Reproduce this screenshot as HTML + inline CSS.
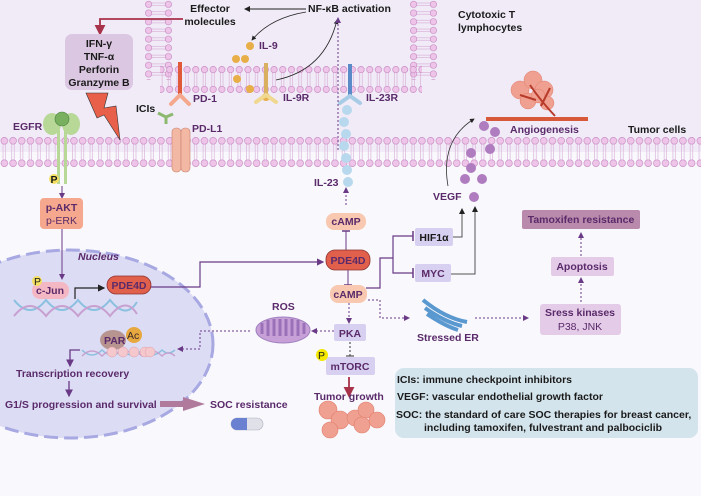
<!DOCTYPE html>
<html><head><meta charset="utf-8"><style>
body{margin:0;width:701px;height:496px;overflow:hidden;background:#f8f8fd}
svg{display:block}
text{font-family:"Liberation Sans",sans-serif;font-weight:bold;font-size:10.5px;fill:#5a2a6a}
.k{fill:#1a1a1a}
</style></head><body>
<svg width="701" height="496" viewBox="0 0 701 496" xmlns="http://www.w3.org/2000/svg">
<defs>
<pattern id="mh" x="0" y="137" width="8.7" height="30" patternUnits="userSpaceOnUse">
<line x1="3" y1="4" x2="3" y2="26" stroke="#d7a8d4" stroke-width="0.6"/><line x1="5.5" y1="4" x2="5.5" y2="26" stroke="#d7a8d4" stroke-width="0.6"/>
<circle cx="4.35" cy="3.8" r="3.4" fill="#eec4e8" stroke="#c98ec6" stroke-width="0.7"/>
<circle cx="4.35" cy="26.2" r="3.4" fill="#eec4e8" stroke="#c98ec6" stroke-width="0.7"/>
</pattern>
<pattern id="th" x="0" y="66" width="8.7" height="27" patternUnits="userSpaceOnUse">
<line x1="3" y1="4" x2="3" y2="23" stroke="#d7a8d4" stroke-width="0.6"/><line x1="5.5" y1="4" x2="5.5" y2="23" stroke="#d7a8d4" stroke-width="0.6"/>
<circle cx="4.35" cy="3.6" r="3.2" fill="#eec4e8" stroke="#c98ec6" stroke-width="0.7"/>
<circle cx="4.35" cy="23.4" r="3.2" fill="#eec4e8" stroke="#c98ec6" stroke-width="0.7"/>
</pattern>
<pattern id="tv" x="145" y="0" width="27" height="8.7" patternUnits="userSpaceOnUse">
<line y1="3" x1="4" y2="3" x2="23" stroke="#d7a8d4" stroke-width="0.6"/><line y1="5.5" x1="4" y2="5.5" x2="23" stroke="#d7a8d4" stroke-width="0.6"/>
<circle cy="4.35" cx="3.6" r="3.2" fill="#eec4e8" stroke="#c98ec6" stroke-width="0.7"/>
<circle cy="4.35" cx="23.4" r="3.2" fill="#eec4e8" stroke="#c98ec6" stroke-width="0.7"/>
</pattern>
<pattern id="tv2" x="410" y="0" width="27" height="8.7" patternUnits="userSpaceOnUse">
<line y1="3" x1="4" y2="3" x2="23" stroke="#d7a8d4" stroke-width="0.6"/><line y1="5.5" x1="4" y2="5.5" x2="23" stroke="#d7a8d4" stroke-width="0.6"/>
<circle cy="4.35" cx="3.6" r="3.2" fill="#eec4e8" stroke="#c98ec6" stroke-width="0.7"/>
<circle cy="4.35" cx="23.4" r="3.2" fill="#eec4e8" stroke="#c98ec6" stroke-width="0.7"/>
</pattern>
<marker id="ap" markerWidth="6" markerHeight="6" refX="5" refY="3" orient="auto"><path d="M0,0L6,3L0,6z" fill="#6a3a86"/></marker>
<marker id="ak" markerWidth="6" markerHeight="6" refX="5" refY="3" orient="auto"><path d="M0,0L6,3L0,6z" fill="#222"/></marker>
<marker id="ar" markerWidth="6" markerHeight="6" refX="5" refY="3" orient="auto"><path d="M0,0L6,3L0,6z" fill="#a8324a"/></marker>
<marker id="ab" markerWidth="4" markerHeight="8" refX="2" refY="4" orient="auto"><path d="M2,0V8" stroke="#6a3a86" stroke-width="1.5"/></marker>
</defs>
<rect width="701" height="152" fill="#f0ebf7"/>
<!-- T cell membrane -->
<rect x="145" y="0" width="27" height="80" fill="url(#tv)"/>
<rect x="410" y="0" width="27" height="80" fill="url(#tv2)"/>
<rect x="160" y="66" width="262" height="27" fill="url(#th)"/>
<!-- tumor membrane -->
<rect x="0" y="137" width="701" height="30" fill="url(#mh)"/>
<!-- nucleus -->
<ellipse cx="70" cy="344" rx="143" ry="94" fill="#dcdcf4" stroke="#a8a8e2" stroke-width="3" stroke-dasharray="14,6"/>
<!-- top texts -->
<text x="210" y="12" text-anchor="middle" class="k">Effector</text>
<text x="210" y="25" text-anchor="middle" class="k">molecules</text>
<text x="308" y="12" class="k">NF-κB activation</text>
<text x="458" y="18" class="k">Cytotoxic T</text>
<text x="458" y="31" class="k">lymphocytes</text>
<line x1="306" y1="9" x2="245" y2="9" stroke="#222" marker-end="url(#ak)"/>
<path d="M306,12 Q270,18 252,40" stroke="#222" fill="none" stroke-width="0.8" marker-end="url(#ak)"/>
<path d="M276,80 Q325,70 337,20" stroke="#222" fill="none" stroke-width="0.8" marker-end="url(#ak)"/>
<path d="M183,19 H100 V34" stroke="#a8324a" stroke-width="1.8" fill="none" marker-end="url(#ar)"/>
<rect x="65" y="34" width="68" height="56" rx="7" fill="#dcc7e2"/>
<text x="99" y="47" text-anchor="middle" class="k">IFN-γ</text>
<text x="99" y="60" text-anchor="middle" class="k">TNF-α</text>
<text x="99" y="73" text-anchor="middle" class="k">Perforin</text>
<text x="99" y="86" text-anchor="middle" class="k">Granzyme B</text>
<path d="M86,93 L108,93 L104,108 L116,106 L120,140 L104,115 L97,118 Z" fill="#e8604a" stroke="#333" stroke-width="0.6"/>
<!-- IL-9 -->
<g fill="#e8ae48"><circle cx="250" cy="46" r="4"/><circle cx="236" cy="59" r="4"/><circle cx="245" cy="59" r="4"/><circle cx="237" cy="79" r="4"/><circle cx="250" cy="89" r="4"/><circle cx="266" cy="97" r="4"/></g>
<text x="259" y="49">IL-9</text>
<rect x="264" y="63" width="4" height="32" fill="#d8b060"/>
<path d="M266,95 L256,102 M266,95 L276,102" stroke="#f0d890" stroke-width="4" stroke-linecap="round"/>
<text x="283" y="101">IL-9R</text>
<rect x="178" y="62" width="4" height="33" fill="#e05a3a"/>
<path d="M180,95 L171,104 M180,95 L189,104" stroke="#f4a88e" stroke-width="4" stroke-linecap="round"/>
<text x="193" y="102">PD-1</text>
<rect x="348" y="64" width="4" height="32" fill="#5a8ac8"/>
<path d="M350,96 L340,103 M350,96 L360,103" stroke="#a8cce6" stroke-width="4" stroke-linecap="round"/>
<text x="366" y="101">IL-23R</text>
<g fill="#b8d8ee"><circle cx="347" cy="110" r="5"/><circle cx="344" cy="122" r="5"/><circle cx="346" cy="134" r="5"/><circle cx="344" cy="146" r="5"/><circle cx="346" cy="158" r="5"/><circle cx="347" cy="170" r="5"/><circle cx="348" cy="182" r="5"/></g>
<line x1="338" y1="150" x2="338" y2="18" stroke="#6a3a86" stroke-dasharray="2,2" marker-end="url(#ap)"/>
<text x="136" y="112" class="k">ICIs</text>
<path d="M158,113 L166,117 L166,124 M166,117 L173,114" stroke="#8cb870" stroke-width="3" fill="none"/>
<rect x="172" y="128" width="9" height="44" rx="4" fill="#f2b8a4" stroke="#c8806c" stroke-width="0.6"/>
<rect x="181" y="128" width="9" height="44" rx="4" fill="#f2b8a4" stroke="#c8806c" stroke-width="0.6"/>
<text x="192" y="132">PD-L1</text>
<!-- EGFR -->
<text x="13" y="130">EGFR</text>
<ellipse cx="52" cy="124" rx="9" ry="11" fill="#b8d898"/><ellipse cx="71" cy="124" rx="9" ry="11" fill="#b8d898"/>
<circle cx="62" cy="119" r="7" fill="#78b060" stroke="#4a8040" stroke-width="0.6"/>
<rect x="57" y="130" width="3" height="54" fill="#b8d898"/><rect x="64" y="130" width="3" height="54" fill="#b8d898"/>
<circle cx="54" cy="179" r="5" fill="#f4e060"/><text x="50.5" y="183" font-size="8" class="k">P</text>
<line x1="62" y1="186" x2="62" y2="198" stroke="#6a3a86" marker-end="url(#ap)"/>
<rect x="40" y="198" width="43" height="31" rx="4" fill="#f6a88e"/>
<text x="61.5" y="211" text-anchor="middle">p-AKT</text>
<text x="61.5" y="224" text-anchor="middle" style="font-weight:normal">p-ERK</text>
<line x1="62" y1="229" x2="62" y2="279" stroke="#6a3a86" marker-end="url(#ap)"/>
<text x="78" y="260" font-style="italic">Nucleus</text>
<!-- c-Jun -->
<rect x="32" y="282" width="37" height="17" rx="8" fill="#f4b8c4"/>
<text x="50" y="294" text-anchor="middle">c-Jun</text>
<circle cx="37" cy="281" r="5" fill="#f4e060"/><text x="34" y="285" font-size="8" class="k" style="font-weight:normal">P</text>
<path d="M14,300 Q30,320 46,300 Q62,320 78,300 Q94,320 110,300 Q126,320 137,302" stroke="#8cc0e0" stroke-width="2" fill="none"/>
<path d="M14,316 Q30,296 46,316 Q62,296 78,316 Q94,296 110,316 Q126,296 137,314" stroke="#c8a0d0" stroke-width="2" fill="none"/>
<path d="M75,299 V288 H104" stroke="#222" stroke-width="1.2" fill="none" marker-end="url(#ak)"/>
<rect x="107" y="276" width="44" height="18" rx="9" fill="#e0604c" stroke="#8a3030" stroke-width="0.8"/>
<text x="129" y="289" text-anchor="middle">PDE4D</text>
<path d="M151,287 H200 V262 H323" stroke="#6a3a86" stroke-width="1.2" fill="none" marker-end="url(#ap)"/>
<!-- right chain -->
<rect x="326" y="213" width="40" height="17" rx="8" fill="#f8c8b0"/><text x="346" y="225" text-anchor="middle">cAMP</text>
<line x1="346" y1="205" x2="346" y2="188" stroke="#6a3a86" stroke-dasharray="2,2" marker-end="url(#ap)"/>
<text x="314" y="186">IL-23</text>
<line x1="346" y1="250" x2="346" y2="231" stroke="#6a3a86" marker-end="url(#ab)"/>
<rect x="326" y="250" width="44" height="20" rx="9" fill="#e0604c" stroke="#8a3030" stroke-width="0.8"/><text x="348" y="264" text-anchor="middle">PDE4D</text>
<line x1="348" y1="270" x2="348" y2="285" stroke="#6a3a86" marker-end="url(#ab)"/>
<rect x="330" y="285" width="37" height="18" rx="8" fill="#f8c8b0"/><text x="348" y="298" text-anchor="middle">cAMP</text>
<line x1="349" y1="303" x2="349" y2="323" stroke="#6a3a86" stroke-dasharray="2,2" marker-end="url(#ap)"/>
<rect x="334" y="324" width="32" height="17" rx="2" fill="#d8d0f0"/><text x="350" y="337" text-anchor="middle">PKA</text>
<line x1="334" y1="331" x2="312" y2="331" stroke="#6a3a86" stroke-dasharray="2,2" marker-end="url(#ap)"/>
<line x1="350" y1="342" x2="350" y2="356" stroke="#333" stroke-dasharray="2,2"/><line x1="346" y1="356" x2="354" y2="356" stroke="#333"/>
<rect x="326" y="357" width="49" height="18" rx="2" fill="#d8d0f0"/><text x="350" y="370" text-anchor="middle">mTORC</text>
<circle cx="322" cy="355" r="6" fill="#f4e800"/><text x="318" y="359" font-size="9" class="k" style="font-weight:normal">P</text>
<line x1="349" y1="377" x2="349" y2="396" stroke="#a8324a" stroke-width="1.8" marker-end="url(#ar)"/>
<text x="314" y="400">Tumor growth</text>
<g fill="#f0a090" stroke="#e07c6c" stroke-width="0.6"><circle cx="328" cy="410" r="9"/><circle cx="340" cy="420" r="9"/><circle cx="330" cy="430" r="8"/><circle cx="355" cy="418" r="8"/><circle cx="366" cy="410" r="8"/><circle cx="362" cy="425" r="8"/><circle cx="377" cy="420" r="8"/></g>
<!-- ROS -->
<text x="272" y="310">ROS</text>
<ellipse cx="283" cy="330" rx="27" ry="13" fill="#c8a0d8" stroke="#a080c0"/>
<path d="M262,334 V323 M268,336 V320 M274,336 V319 M280,336 V319 M286,336 V319 M292,336 V319 M298,336 V320 M304,334 V323" stroke="#9a70b8" stroke-width="3"/>
<path d="M250,331 H200 V349 H178" stroke="#6a3a86" stroke-dasharray="2,2" fill="none" marker-end="url(#ap)"/>
<ellipse cx="113" cy="340" rx="13" ry="10" fill="#b89490"/><text x="104" y="344">PAR</text>
<circle cx="134" cy="335" r="8" fill="#e8a840"/><text x="127" y="339" font-weight="normal" style="font-weight:normal;fill:#3a2a2a">Ac</text>
<path d="M82,350 Q92,360 102,350 Q112,360 122,350 Q132,360 142,350 Q152,360 162,350 Q168,356 175,350" stroke="#8cc0e0" stroke-width="1.5" fill="none"/>
<path d="M82,356 Q92,346 102,356 Q112,346 122,356 Q132,346 142,356 Q152,346 162,356 Q168,350 175,356" stroke="#c8a0d0" stroke-width="1.5" fill="none"/>
<g fill="#f4c8cc" stroke="#e0a0a8" stroke-width="0.5"><circle cx="112" cy="352" r="5"/><circle cx="123" cy="352" r="5"/><circle cx="134" cy="352" r="5"/><circle cx="145" cy="352" r="5"/><circle cx="150" cy="352" r="5"/></g>
<path d="M80,350 H70 V366" stroke="#6a3a86" stroke-width="1.3" fill="none" marker-end="url(#ap)"/>
<text x="16" y="377">Transcription recovery</text>
<line x1="69" y1="381" x2="69" y2="396" stroke="#6a3a86" stroke-width="1.3" marker-end="url(#ap)"/>
<text x="5" y="408">G1/S progression and survival</text>
<path d="M160,401 H183 V397 L205,404 L183,411 V407 H160 Z" fill="#b07a9c"/>
<text x="210" y="408">SOC resistance</text>
<rect x="231" y="418" width="32" height="12" rx="6" fill="#e0e0e8" stroke="#b0b0c0" stroke-width="0.6"/>
<path d="M237,418 H247 V430 H237 A6,6 0 0 1 237,418Z" fill="#6a80d0"/>
<!-- HIF/MYC -->
<path d="M366,288 H380 V258 H393 V236 H413 M393,258 V273 H413" stroke="#6a3a86" stroke-width="1.2" fill="none"/>
<line x1="413" y1="231" x2="413" y2="241" stroke="#6a3a86" stroke-width="1.5"/><line x1="413" y1="268" x2="413" y2="278" stroke="#6a3a86" stroke-width="1.5"/>
<rect x="415" y="228" width="38" height="18" rx="2" fill="#d8d0f0"/><text x="434" y="241" text-anchor="middle" class="k">HIF1α</text>
<rect x="415" y="264" width="36" height="18" rx="2" fill="#d8d0f0"/><text x="433" y="277" text-anchor="middle">MYC</text>
<path d="M453,237 H462 V209" stroke="#555" fill="none" marker-end="url(#ak)"/>
<path d="M451,274 H475 V207" stroke="#555" fill="none" marker-end="url(#ak)"/>
<text x="433" y="200">VEGF</text>
<g fill="#b07cc0"><circle cx="474" cy="197" r="5"/><circle cx="465" cy="179" r="5"/><circle cx="482" cy="179" r="5"/><circle cx="471" cy="168" r="5"/><circle cx="471" cy="153" r="5"/><circle cx="490" cy="149" r="5"/><circle cx="495" cy="132" r="5"/><circle cx="484" cy="126" r="5"/></g>
<path d="M448,186 Q440,140 474,119" stroke="#333" fill="none" stroke-width="0.8" marker-end="url(#ak)"/>
<rect x="486" y="117" width="102" height="4" fill="#d8583a"/>
<g fill="#f0a090" stroke="#e07c6c" stroke-width="0.5"><circle cx="520" cy="90" r="9"/><circle cx="533" cy="80" r="9"/><circle cx="544" cy="90" r="9"/><circle cx="528" cy="101" r="8"/><circle cx="547" cy="103" r="7"/><circle cx="538" cy="96" r="7"/></g>
<path d="M555,116 Q540,100 530,85 M541,106 L550,88 M536,100 L520,95" stroke="#b83a2a" stroke-width="2" fill="none"/>
<text x="510" y="133">Angiogenesis</text>
<text x="628" y="133" class="k">Tumor cells</text>
<rect x="522" y="210" width="118" height="19" rx="2" fill="#b98aac"/><text x="581" y="223" text-anchor="middle">Tamoxifen resistance</text>
<line x1="581" y1="256" x2="581" y2="233" stroke="#6a3a86" stroke-dasharray="2,2" marker-end="url(#ap)"/>
<rect x="551" y="257" width="63" height="19" rx="2" fill="#e4cce8"/><text x="582" y="270" text-anchor="middle">Apoptosis</text>
<line x1="581" y1="302" x2="581" y2="278" stroke="#6a3a86" stroke-dasharray="2,2" marker-end="url(#ap)"/>
<rect x="540" y="304" width="81" height="31" rx="3" fill="#e4cce8"/>
<text x="580" y="316" text-anchor="middle">Sress kinases</text>
<text x="580" y="330" text-anchor="middle" style="font-weight:normal">P38, JNK</text>
<path d="M368,300 H380 V318 H409" stroke="#6a3a86" stroke-dasharray="2,2" fill="none" marker-end="url(#ap)"/>
<line x1="475" y1="318" x2="528" y2="318" stroke="#6a3a86" stroke-dasharray="2,2" marker-end="url(#ap)"/>
<path d="M423,300 Q445,318 467,322 M425,308 Q445,322 462,326 M427,314 Q445,326 458,330" stroke="#5a98d0" stroke-width="4" fill="none"/>
<text x="417" y="341">Stressed ER</text>
<rect x="395" y="368" width="303" height="70" rx="9" fill="#d4e4ec"/>
<text x="397" y="383" class="k">ICIs: immune checkpoint inhibitors</text>
<text x="397" y="400" class="k">VEGF: vascular endothelial growth factor</text>
<text x="396" y="418" class="k">SOC: the standard of care SOC therapies for breast cancer,</text>
<text x="424" y="431" class="k">including tamoxifen, fulvestrant and palbociclib</text>
</svg>
</body></html>
